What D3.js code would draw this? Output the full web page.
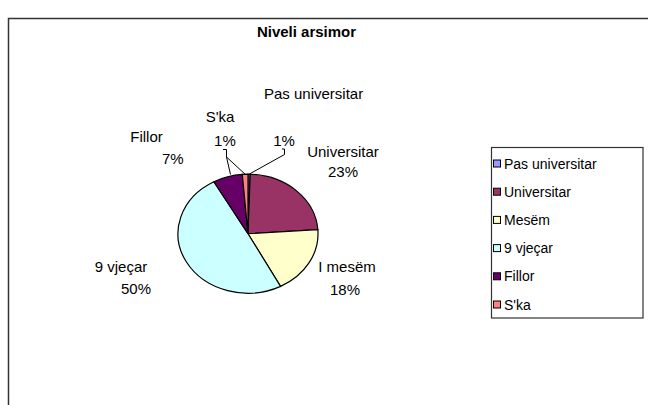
<!DOCTYPE html>
<html><head><meta charset="utf-8">
<script src="https://cdn.jsdelivr.net/npm/d3@7"></script>
<style>html,body{margin:0;padding:0;background:#fff;}svg{display:block;font-family:"Liberation Sans",Arial,sans-serif;}</style>
</head><body>
<svg id="c" width="648" height="405"></svg>
<script>
const title = "Niveli arsimor";
const categories = ["Pas universitar", "Universitar", "Mesëm", "9 vjeçar", "Fillor", "S'ka"];
const labelNames = ["Pas universitar", "Universitar", "I mesëm", "9 vjeçar", "Fillor", "S'ka"];
const values = [0.5, 23.4, 18.4, 49.6, 6.8, 1.3];
const colors = ["#9999FF", "#993366", "#FFFFCC", "#CCFFFF", "#660066", "#FF8080"];

const svg = d3.select("#c");
// outer chart frame
svg.append("rect").attr("x", 8.5).attr("y", 18.5).attr("width", 700).attr("height", 500)
  .attr("fill", "#fff").attr("stroke", "#333").attr("stroke-width", 1.5);

svg.append("text").attr("x", 306.5).attr("y", 36.7).attr("text-anchor", "middle")
  .attr("font-size", 15).attr("font-weight", "bold").text(title);

const cx = 248, cy = 233.7, rx = 70, ry = 59.5;
const pie = d3.pie().sort(null).value(d => d)(values);
const arc = d3.arc().innerRadius(0).outerRadius(rx);
const g = svg.append("g").attr("transform", `translate(${cx},${cy}) scale(1,${ry/rx})`);
g.selectAll("path").data(pie).join("path")
  .attr("d", arc).attr("fill", (d, i) => colors[i])
  .attr("stroke", "#000").attr("stroke-width", 1.2).attr("vector-effect", "non-scaling-stroke");

const total = d3.sum(values);
const pct = values.map(v => Math.round(v / total * 100) + "%");
// label layout: [name x, name y, pct x, pct y]
const labelPos = [
  [313.6, 99.3, 284, 145.5],
  [343, 157.3, 343, 177.3],
  [347, 272.3, 345, 294.5],
  [121, 271.8, 136, 294.3],
  [146.5, 142, 172.8, 164],
  [220, 122, 224.9, 145.5]
];
const lab = svg.append("g").attr("font-size", 15).attr("text-anchor", "middle").attr("fill", "#000");
labelNames.forEach((n, i) => {
  const p = labelPos[i];
  lab.append("text").attr("x", p[0]).attr("y", p[1]).text(n);
  lab.append("text").attr("x", p[2]).attr("y", p[3]).text(pct[i]);
});

// leader lines for the tiny slices
function edgePoint(d) {
  const a = (d.startAngle + d.endAngle) / 2;
  return [cx + rx * Math.sin(a), cy - ry * Math.cos(a)];
}
const ep0 = edgePoint(pie[0]);
const ep5 = edgePoint(pie[5]);
const ll = svg.append("g").attr("fill", "none").attr("stroke", "#000").attr("stroke-width", 1);
ll.append("path").attr("d", `M282,149H284.5V154.5L${ep0[0]},${ep0[1]}`);
ll.append("path").attr("d", `M223,149.5H226.5V157L${ep5[0]},${ep5[1]}`);
ll.append("path").attr("d", `M226.5,157L230.5,174.5`);

// legend
const lg = svg.append("g");
lg.append("rect").attr("x", 491.5).attr("y", 147.5).attr("width", 151.5).attr("height", 170.5)
  .attr("fill", "#fff").attr("stroke", "#333").attr("stroke-width", 1.2);
const rowY = d3.scalePoint().domain(categories).range([163.5, 304.5]);
categories.forEach((c, i) => {
  const y = rowY(c);
  lg.append("rect").attr("x", 493.5).attr("y", y - 3.5).attr("width", 7).attr("height", 7)
    .attr("fill", colors[i]).attr("stroke", "#000").attr("stroke-width", 1);
  lg.append("text").attr("x", 504).attr("y", y + 5).attr("font-size", 14).text(c);
});
</script>
</body></html>
